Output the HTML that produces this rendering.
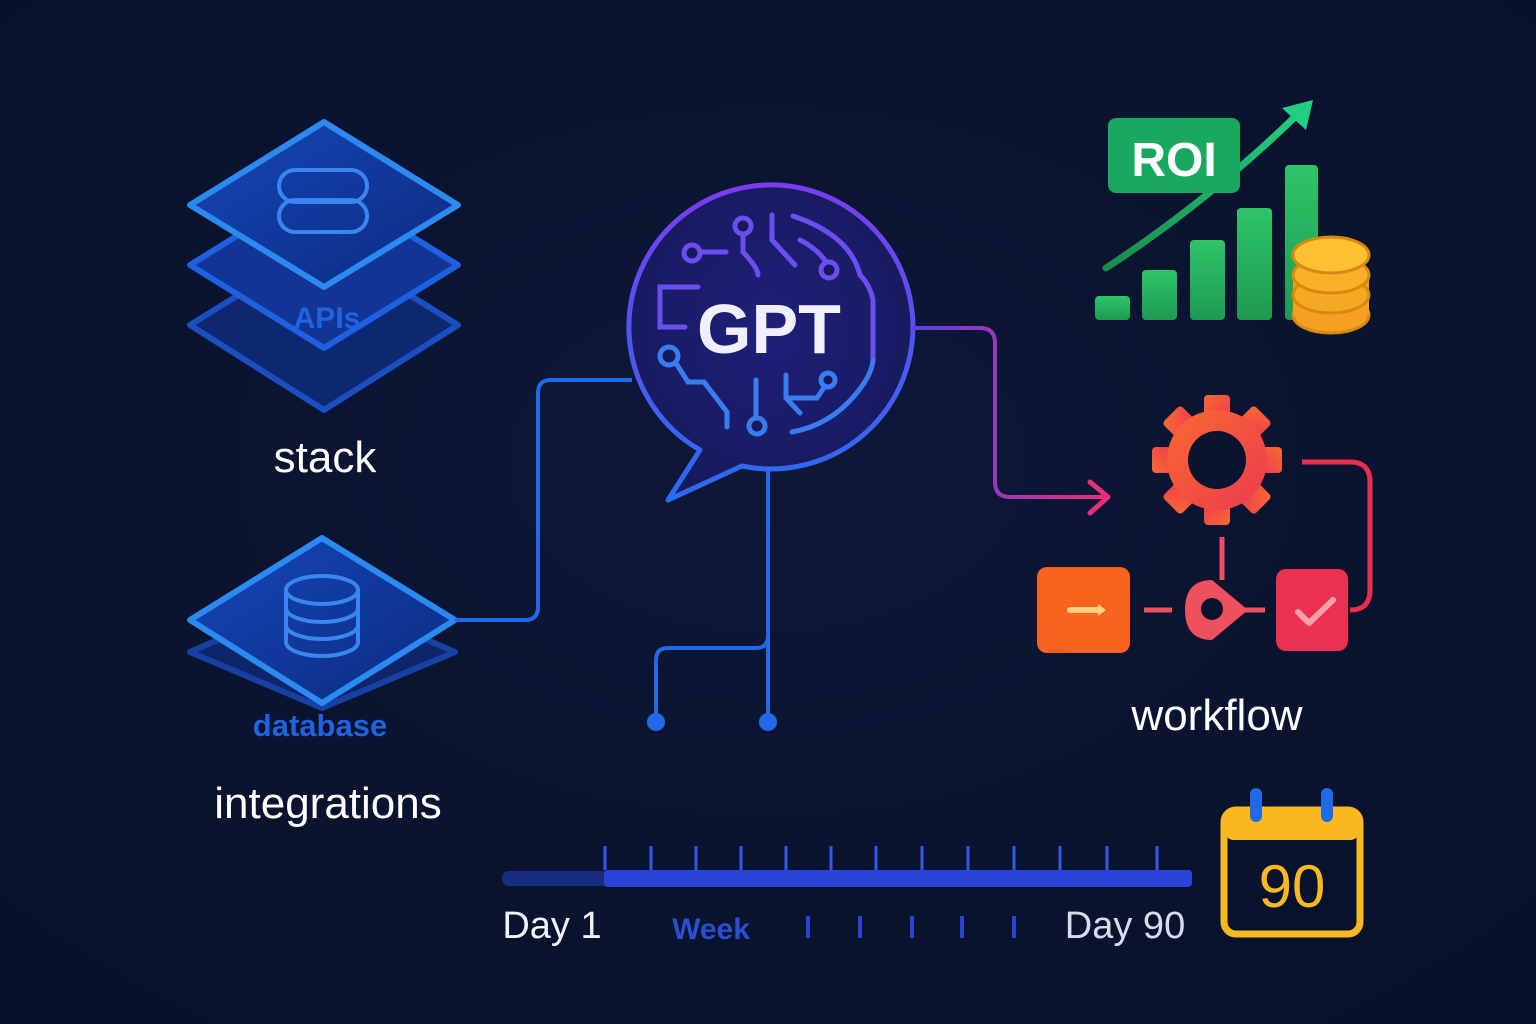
<!DOCTYPE html>
<html><head><meta charset="utf-8"><style>
html,body{margin:0;padding:0;background:#0a1430;}
svg{display:block}
text{font-family:"Liberation Sans",sans-serif;}
</style></head><body>
<svg width="1536" height="1024" viewBox="0 0 1536 1024" xmlns="http://www.w3.org/2000/svg">
<defs>
<radialGradient id="bg" cx="50%" cy="45%" r="70%"><stop offset="0" stop-color="#0d1838"/><stop offset="1" stop-color="#08112a"/></radialGradient>
<linearGradient id="dia" x1="0" y1="0" x2="1" y2="1"><stop offset="0" stop-color="#1547b8"/><stop offset="1" stop-color="#0c2a80"/></linearGradient>
<linearGradient id="bub" x1="0" y1="0" x2="0" y2="1"><stop offset="0" stop-color="#7a3cf0"/><stop offset="1" stop-color="#2a6cf0"/></linearGradient>
<radialGradient id="bubf" cx="50%" cy="45%" r="60%"><stop offset="0" stop-color="#1e1f7a"/><stop offset="1" stop-color="#161a5a"/></radialGradient>
<linearGradient id="arr" x1="0" x2="1"><stop offset="0" stop-color="#5a40e8"/><stop offset="1" stop-color="#e8307a"/></linearGradient>
<linearGradient id="gear" x1="0" y1="0" x2="1" y2="1"><stop offset="0" stop-color="#f86a30"/><stop offset="1" stop-color="#ec3a50"/></linearGradient>
<linearGradient id="bar" x1="0" y1="0" x2="0" y2="1"><stop offset="0" stop-color="#2ec46a"/><stop offset="1" stop-color="#1e9a50"/></linearGradient>
<linearGradient id="up" x1="0" y1="1" x2="1" y2="0"><stop offset="0" stop-color="#1a8a4a"/><stop offset="1" stop-color="#20d080"/></linearGradient>
</defs>
<rect width="1536" height="1024" fill="url(#bg)"/>

<!-- stack -->
<g stroke-linejoin="round">
<path d="M190 325 L324 242 L458 325 L324 410 Z" fill="#0f2a78" stroke="#1d55d0" stroke-width="6" opacity="0.9"/>
<path d="M190 265 L324 182 L458 265 L324 348 Z" fill="#123495" stroke="#1f60e0" stroke-width="6"/>
<path d="M190 205 L324 122 L458 205 L324 287 Z" fill="url(#dia)" stroke="#2b8af0" stroke-width="6"/>
<rect x="279" y="170" width="88" height="32" rx="16" fill="none" stroke="#3a86f0" stroke-width="4"/>
<rect x="279" y="200" width="88" height="32" rx="16" fill="none" stroke="#3a86f0" stroke-width="4"/>
</g>
<text x="327" y="328" font-size="30" font-weight="bold" fill="#1f63e0" text-anchor="middle">APIs</text>
<text x="325" y="472" font-size="44" fill="#fff" text-anchor="middle">stack</text>

<!-- database -->
<path d="M190 652 L322 594 L455 652 L322 708 Z" fill="#0f2a78" stroke="#1a4cc0" stroke-width="6" stroke-linejoin="round" opacity="0.8"/>
<path d="M190 620 L322 538 L455 620 L322 703 Z" fill="url(#dia)" stroke="#2b8af0" stroke-width="6" stroke-linejoin="round"/>
<g fill="none" stroke="#3a86f0" stroke-width="4">
<ellipse cx="322" cy="590" rx="36" ry="14"/>
<path d="M286 590 V642 A36 14 0 0 0 358 642 V590 M286 608 A36 14 0 0 0 358 608 M286 625 A36 14 0 0 0 358 625"/>
</g>
<text x="320" y="736" font-size="31" font-weight="bold" fill="#1f63e0" text-anchor="middle">database</text>
<text x="328" y="818" font-size="44" fill="#fff" text-anchor="middle">integrations</text>

<!-- connectors blue -->
<g fill="none" stroke="#1f6ae8" stroke-width="4">
<path d="M455 620 H525 Q538 620 538 607 V393 Q538 380 551 380 H632"/>
<path d="M768 470 V722"/>
<path d="M768 636 Q768 648 756 648 H668 Q656 648 656 660 V722"/>
</g>
<circle cx="768" cy="722" r="9" fill="#1f6ae8"/>
<circle cx="656" cy="722" r="9" fill="#1f6ae8"/>

<!-- GPT bubble -->
<path d="M700 450 L668 500 L742 466 A142 142 0 1 0 700 450 Z" fill="url(#bubf)" stroke="url(#bub)" stroke-width="5" stroke-linejoin="round"/>
<g fill="none" stroke="#6a4ef0" stroke-width="5" stroke-linecap="round">
<path d="M700 252 H726"/><path d="M743 237 V252 Q758 268 758 275"/>
<path d="M772 215 V240 L795 265"/><path d="M793 216 Q850 235 860 275 Q870 285 873 300 V360"/>
<path d="M800 240 Q820 250 830 268"/>
<path d="M698 287 H660 V327 H685"/>
</g>
<g fill="none" stroke="#3a7cf0" stroke-width="5" stroke-linecap="round">
<path d="M672 357 L688 382 H704 L727 412 V427"/>
<path d="M756 380 V420"/>
<path d="M786 375 V398 L800 413 M786 398 H817 L827 383"/>
<path d="M792 432 Q830 425 855 395 Q872 375 873 360"/>
</g>
<g fill="#161a5a" stroke-width="5"><circle cx="692" cy="253" r="8" stroke="#6a4ef0"/><circle cx="743" cy="226" r="8" stroke="#6a4ef0"/><circle cx="829" cy="270" r="8" stroke="#6a4ef0"/>
<circle cx="669" cy="356" r="9" stroke="#3a7cf0"/><circle cx="757" cy="426" r="8" stroke="#3a7cf0"/><circle cx="828" cy="380" r="7" stroke="#3a7cf0"/></g>
<text x="769" y="353" font-size="70" font-weight="bold" fill="#eef0ff" text-anchor="middle">GPT</text>

<!-- right connector -->
<path d="M912 328 H980 Q995 328 995 343 V482 Q995 497 1010 497 H1105" fill="none" stroke="url(#arr)" stroke-width="4"/>
<path d="M1090 482 L1108 497 L1090 513" fill="none" stroke="#e8307a" stroke-width="5" stroke-linecap="round" stroke-linejoin="round"/>

<!-- ROI -->
<rect x="1095" y="296" width="35" height="24" rx="4" fill="url(#bar)"/>
<rect x="1142" y="270" width="35" height="50" rx="4" fill="url(#bar)"/>
<rect x="1190" y="240" width="35" height="80" rx="4" fill="url(#bar)"/>
<rect x="1237" y="208" width="35" height="112" rx="4" fill="url(#bar)"/>
<rect x="1285" y="165" width="33" height="155" rx="4" fill="url(#bar)"/>
<path d="M1106 268 Q1210 200 1300 112" fill="none" stroke="url(#up)" stroke-width="7" stroke-linecap="round"/>
<path d="M1282 108 L1313 100 L1306 130 Z" fill="#20d080"/>
<rect x="1108" y="118" width="132" height="75" rx="8" fill="#18a860"/>
<text x="1174" y="176" font-size="48" font-weight="bold" fill="#fff" text-anchor="middle">ROI</text>
<g stroke="#d88a10" stroke-width="3">
<ellipse cx="1331" cy="315" rx="38" ry="18" fill="#f5a020"/>
<rect x="1293" y="275" width="76" height="40" fill="#f5a020" stroke="none"/>
<ellipse cx="1331" cy="295" rx="38" ry="18" fill="#f7a822"/>
<ellipse cx="1331" cy="275" rx="38" ry="18" fill="#f9b028"/>
<ellipse cx="1331" cy="255" rx="38" ry="18" fill="#fcc030"/>
</g>

<!-- gear -->
<g transform="translate(1217,460)" fill="url(#gear)">
<g id="t"><rect x="-13" y="-65" width="26" height="25" rx="4"/></g>
<use href="#t" transform="rotate(45)"/><use href="#t" transform="rotate(90)"/><use href="#t" transform="rotate(135)"/>
<use href="#t" transform="rotate(180)"/><use href="#t" transform="rotate(225)"/><use href="#t" transform="rotate(270)"/><use href="#t" transform="rotate(315)"/>
<circle r="50"/>
</g>
<circle cx="1217" cy="460" r="29" fill="#0a1430"/>
<path d="M1302 462 H1350 Q1370 462 1370 482 V590 Q1370 610 1350 610" fill="none" stroke="#e8304e" stroke-width="5"/>
<path d="M1222 537 V580" stroke="#ee5060" stroke-width="5"/>
<path d="M1144 610 H1172 M1245 610 H1265" stroke="#ee5060" stroke-width="5"/>
<path d="M1212 580 L1248 610 L1212 640 Q1185 640 1185 610 Q1185 580 1212 580 Z" fill="#ee5060"/>
<circle cx="1212" cy="609" r="11" fill="#0a1430"/>
<rect x="1037" y="567" width="93" height="86" rx="10" fill="#f86420"/>
<path d="M1070 610 H1100" stroke="#ffd080" stroke-width="6" stroke-linecap="round"/>
<path d="M1098 604 L1106 610 L1098 616 Z" fill="#ffd080"/>
<rect x="1276" y="569" width="72" height="82" rx="10" fill="#ec3050"/>
<path d="M1298 612 L1309 623 L1333 600" fill="none" stroke="#f8a0a8" stroke-width="6" stroke-linecap="round" stroke-linejoin="round"/>
<text x="1217" y="730" font-size="44" fill="#fff" text-anchor="middle">workflow</text>

<!-- timeline -->
<rect x="502" y="871" width="690" height="15" rx="7" fill="#1a2c80"/>
<rect x="604" y="870" width="588" height="17" rx="4" fill="#2a44d8"/>
<g stroke="#3a56e8" stroke-width="3">
<path d="M605 846 V870 M651 846 V870 M696 846 V870 M741 846 V870 M786 846 V870 M831 846 V870 M876 846 V870 M922 846 V870 M968 846 V870 M1014 846 V870 M1060 846 V870 M1107 846 V870 M1157 846 V870"/>
</g>
<g stroke="#2a44d8" stroke-width="4"><path d="M808 916 V938 M860 916 V938 M912 916 V938 M962 916 V938 M1014 916 V938"/></g>
<text x="552" y="938" font-size="38" fill="#f0f2ff" text-anchor="middle">Day 1</text>
<text x="711" y="939" font-size="30" font-weight="bold" fill="#2a50d0" text-anchor="middle">Week</text>
<text x="1125" y="938" font-size="38" fill="#d8dcf0" text-anchor="middle">Day 90</text>

<!-- calendar -->
<rect x="1224" y="810" width="136" height="124" rx="12" fill="none" stroke="#f8b820" stroke-width="7"/>
<rect x="1224" y="810" width="136" height="30" rx="10" fill="#f8b820"/>
<rect x="1250" y="788" width="12" height="34" rx="6" fill="#1f6ae8"/>
<rect x="1321" y="788" width="12" height="34" rx="6" fill="#1f6ae8"/>
<text x="1292" y="907" font-size="60" fill="#f8b820" text-anchor="middle">90</text>
</svg>
</body></html>
